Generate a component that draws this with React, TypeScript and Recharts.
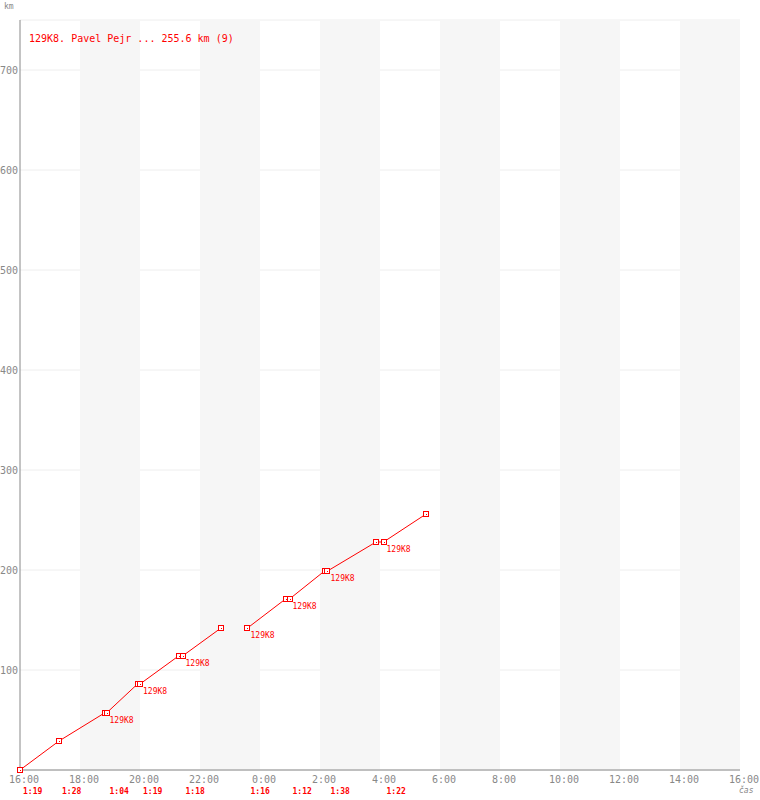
import { LineChart, Line, XAxis, YAxis, CartesianGrid, ReferenceArea, LabelList } from 'recharts'

// minutes since 16:00 of the start day
const times = [0, 78, 169, 173, 235, 240, 317, 325, 402, 430, 455, 531, 539, 609, 615, 712, 727, 811]
const km: (number | null)[] = [0, 29, 57, 57, 86, 86, 114, 114, 142, null, 142, 171, 171, 199, 199, 228, 228, 255.6]
const tags = ['', '', '', '129K8', '', '129K8', '', '129K8', '', '', '129K8', '', '129K8', '', '129K8', '', '129K8', '']

const lapStarts = [0, 78, 173, 240, 325, 455, 539, 615, 727]
const lapLabels = ['1:19', '1:28', '1:04', '1:19', '1:18', '1:16', '1:12', '1:38', '1:22']

const hourTicks = [0, 120, 240, 360, 480, 600, 720, 840, 960, 1080, 1200, 1320, 1440]
const kmTicks = [100, 200, 300, 400, 500, 600, 700]
const shaded = [[120, 240], [360, 480], [600, 720], [840, 960], [1080, 1200], [1320, 1440]]

const title = '129K8. Pavel Pejr ... 255.6 km (9)'

const data = times.map((t, i) => ({ t, km: km[i], tag: tags[i] }))

const RED = '#ff0000'
const GREY = '#888888'
const FONT = '"DejaVu Sans Mono", monospace'

const fmtHour = (m: number) => `${(16 + m / 60) % 24}:00`

function SquareDot(props: any) {
  const { cx, cy, value } = props
  if (value == null || cx == null || cy == null) return null
  const x = Math.round(cx)
  const y = Math.round(cy)
  return (
    <g>
      <rect x={x - 2.5} y={y - 2.5} width={5} height={5} fill="#fff" stroke={RED} strokeWidth={1} />
      <rect x={x} y={y} width={1} height={1} fill={RED} />
    </g>
  )
}

function TagLabel(props: any) {
  const { x, y, value } = props
  if (!value) return null
  return (
    <text x={x + 3} y={y + 10} fill={RED} fontSize={8} fontFamily={FONT}>
      {value}
    </text>
  )
}

// hour labels sit in the lower axis band but are drawn just under the axis line
function HourTick(props: any) {
  const { x, y, payload } = props
  return (
    <text x={x + 4} y={y - 1} fill={GREY} fontSize={10} fontFamily={FONT} textAnchor="middle">
      {fmtHour(payload.value)}
    </text>
  )
}

function LapTick(props: any) {
  const { x, y, payload } = props
  const i = lapStarts.indexOf(payload.value)
  return (
    <text x={x + 3} y={y + 24} fill={RED} fontSize={8} fontWeight="bold" fontFamily={FONT}>
      {lapLabels[i]}
    </text>
  )
}

function KmTick(props: any) {
  const { x, y, payload } = props
  return (
    <text x={x} y={y + 4} fill={GREY} fontSize={10} fontFamily={FONT} textAnchor="end">
      {payload.value}
    </text>
  )
}

export default function App() {
  return (
    <div style={{ position: 'absolute', left: 0, top: 0, width: 760, height: 800, background: '#fff' }}>
      <LineChart width={760} height={800} data={data} margin={{ top: 20, right: 20, left: 0, bottom: 0 }}>
        {shaded.map(([a, b]) => (
          <ReferenceArea key={a} xAxisId="t" x1={a} x2={b} y1={0} y2={750} fill="#f6f6f6" fillOpacity={1} stroke="none" ifOverflow="hidden" />
        ))}
        <CartesianGrid vertical={false} stroke="#eeeeee" xAxisId="t" />
        <XAxis
          xAxisId="laps"
          dataKey="t"
          type="number"
          domain={[0, 1440]}
          ticks={lapStarts}
          interval={0}
          height={14}
          tickSize={0}
          tickMargin={0}
          tickLine={false}
          axisLine={{ stroke: GREY }}
          tick={<LapTick />}
        />
        <XAxis
          xAxisId="t"
          dataKey="t"
          type="number"
          domain={[0, 1440]}
          ticks={hourTicks}
          interval={0}
          height={16}
          tickSize={0}
          tickMargin={0}
          tickLine={false}
          axisLine={false}
          tick={<HourTick />}
        />
        <YAxis
          type="number"
          domain={[0, 750]}
          ticks={kmTicks}
          interval={0}
          width={20}
          tickSize={0}
          tickMargin={2}
          tickLine={false}
          axisLine={{ stroke: GREY }}
          tick={<KmTick />}
        />
        <Line
          xAxisId="t"
          dataKey="km"
          stroke={RED}
          strokeWidth={1}
          dot={<SquareDot />}
          activeDot={false}
          connectNulls={false}
          isAnimationActive={false}
        >
          <LabelList dataKey="tag" content={<TagLabel />} />
        </Line>
      </LineChart>
      <svg width={760} height={800} style={{ position: 'absolute', left: 0, top: 0, pointerEvents: 'none' }}>
        <text x={29} y={42} fill={RED} fontSize={10} fontFamily={FONT}>
          {title}
        </text>
        <text x={4} y={9} fill={GREY} fontSize={8} fontFamily={FONT}>
          km
        </text>
        <text x={739} y={793} fill={GREY} fontSize={8} fontStyle="italic" fontFamily={FONT}>
          čas
        </text>
      </svg>
    </div>
  )
}
